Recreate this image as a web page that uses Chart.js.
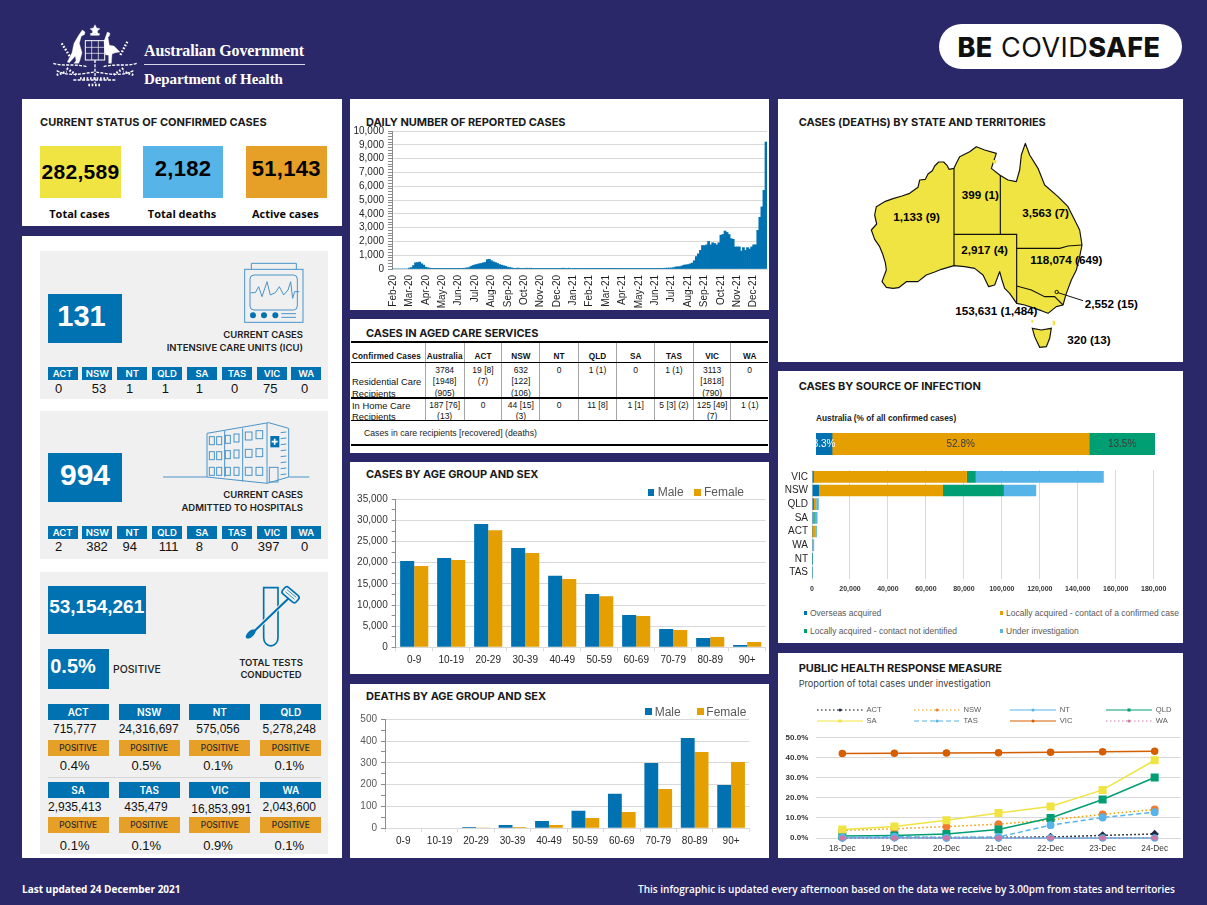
<!DOCTYPE html>
<html>
<head>
<meta charset="utf-8">
<title>Coronavirus (COVID-19) at a glance</title>
<script src="https://cdn.jsdelivr.net/npm/chart.js@4"></script>
<style>
  html, body { margin: 0; padding: 0; background: #2b2869; }
  #page { position: relative; width: 1207px; height: 905px; overflow: hidden; background: #2b2869; font-family: "Liberation Sans", Arial, sans-serif; }
  #page > * { position: absolute; }
  .txt { white-space: nowrap; line-height: 1; }
  .title { font-family: Inter, sans-serif; font-weight: 700; font-size: 11px; color: #1a1a1a; letter-spacing: -0.05px; }
  #aged { border-collapse: collapse; table-layout: fixed; font-size: 8.5px; color: #111; }
  #aged td { text-align: center; vertical-align: top; padding: 0; line-height: 11.8px; overflow: hidden; border-left: 1.5px solid #a6a6a6; }
  #aged td > div { position: relative; top: 2.5px; }
  #aged td:first-child { text-align: left; border-left: none; padding-left: 1px; font-size: 9.4px; white-space: nowrap; }
  #aged tr.resid td:first-child { vertical-align: bottom; }
  #aged tr.head td { font-weight: 700; vertical-align: bottom; padding-bottom: 1px; line-height: 9px; letter-spacing: .1px; font-size: 8.2px; }
  #aged tr.head td > div { top: 0; }
</style>
</head>
<body>
<div id="page"></div>
<script>
/* ── Data ────────────────────────────────────────────────── */

const states = ['ACT', 'NSW', 'NT', 'QLD', 'SA', 'TAS', 'VIC', 'WA'];

const statusLabels = ['Total cases', 'Total deaths', 'Active cases'];
const statusValues = ['282,589', '2,182', '51,143'];

const icuByState = [0, 53, 1, 1, 1, 0, 75, 0];
const hospitalByState = [2, 382, 94, 111, 8, 0, 397, 0];
const testsByState = ['715,777', '24,316,697', '575,056', '5,278,248', '2,935,413', '435,479', '16,853,991', '2,043,600'];
const positiveByState = ['0.4%', '0.5%', '0.1%', '0.1%', '0.1%', '0.1%', '0.9%', '0.1%'];

const dailyMonths = ['Feb-20', 'Mar-20', 'Apr-20', 'May-20', 'Jun-20', 'Jul-20', 'Aug-20', 'Sep-20', 'Oct-20', 'Nov-20', 'Dec-20', 'Jan-21',
  'Feb-21', 'Mar-21', 'Apr-21', 'May-21', 'Jun-21', 'Jul-21', 'Aug-21', 'Sep-21', 'Oct-21', 'Nov-21', 'Dec-21'];
// eight readings per month
const dailyCases = [
  0, 0, 0, 0, 0, 0, 0, 0,
  70, 100, 250, 450, 470, 500, 380, 280,
  130, 90, 60, 20, 10, 10, 5, 5,
  5, 5, 10, 10, 10, 10, 5, 5,
  5, 5, 10, 60, 80, 100, 180, 250,
  300, 330, 380, 400, 450, 480, 680, 700,
  600, 520, 470, 400, 320, 280, 230, 200,
  130, 110, 80, 50, 50, 70, 20, 10,
  10, 60, 10, 60, 5, 5, 5, 5,
  5, 5, 5, 5, 5, 5, 5, 5,
  5, 5, 5, 60, 5, 5, 60, 40,
  10, 5, 5, 5, 5, 5, 5, 5,
  5, 5, 5, 5, 5, 5, 5, 5,
  5, 5, 5, 5, 5, 5, 5, 5,
  5, 5, 5, 5, 50, 50, 5, 5,
  5, 5, 5, 5, 5, 5, 5, 5,
  5, 5, 5, 10, 15, 60, 70, 70,
  80, 100, 150, 160, 170, 220, 280, 300,
  320, 370, 430, 600, 900, 1100, 1350, 1700,
  1700, 1750, 2000, 1750, 1900, 1850, 1750, 1900,
  2450, 2500, 2750, 2650, 2500, 2200, 2150, 1600,
  1600, 1600, 1300, 1550, 1350, 1550, 1450, 1600,
  1750, 1750, 2800, 3750, 4500, 5700, 9200,
];

const agedHeader = ['Confirmed Cases', 'Australia', 'ACT', 'NSW', 'NT', 'QLD', 'SA', 'TAS', 'VIC', 'WA'];
const agedResidential = ['Residential Care<br>Recipients', '3784<br>[1948]<br>(905)', '19 [8]<br>(7)', '632<br>[122]<br>(106)', '0', '1 (1)', '0', '1 (1)', '3113<br>[1818]<br>(790)', '0'];
const agedHome = ['In Home Care<br>Recipients', '187 [76]<br>(13)', '0', '44 [15]<br>(3)', '0', '11 [8]', '1 [1]', '5 [3] (2)', '125 [49]<br>(7)', '1 (1)'];

const ageGroups = ['0-9', '10-19', '20-29', '30-39', '40-49', '50-59', '60-69', '70-79', '80-89', '90+'];
const casesMale = [20400, 21100, 29150, 23500, 16900, 12600, 7650, 4350, 2200, 550];
const casesFemale = [19200, 20650, 27700, 22300, 16150, 12100, 7400, 4100, 2450, 1260];
const deathsMale = [0, 0, 6, 15, 34, 80, 158, 300, 414, 199];
const deathsFemale = [0, 0, 1, 6, 15, 47, 75, 180, 350, 304];

const mapLabels = ['1,133 (9)', '399 (1)', '3,563 (7)', '2,917 (4)', '118,074 (649)', '2,552 (15)', '153,631 (1,484)', '320 (13)'];

const sourceNames = ['Overseas acquired', 'Locally acquired - contact of a confirmed case', 'Locally acquired - contact not identified', 'Under investigation'];
const australiaShare = [3.3, 52.8, 13.5];
const sourceStates = ['VIC', 'NSW', 'QLD', 'SA', 'ACT', 'WA', 'NT', 'TAS'];
const sourceOverseas = [1000, 3700, 1000, 800, 100, 500, 60, 60];
const sourceContact = [80600, 65300, 1200, 300, 1900, 100, 30, 30];
const sourceUnknown = [4700, 32100, 60, 400, 300, 0, 300, 0];
const sourceInvestigation = [67400, 17000, 1300, 1400, 250, 530, 10, 230];

const phrmDays = ['18-Dec', '19-Dec', '20-Dec', '21-Dec', '22-Dec', '23-Dec', '24-Dec'];
const phrmACT = [0.1, 0.2, 0.2, 0.3, 0.5, 1.3, 2.0];
const phrmNSW = [3.8, 4.6, 5.7, 6.9, 9.0, 11.8, 14.2];
const phrmNT = [0, 0.1, 0, 0, 0, 0, 0];
const phrmQLD = [1.0, 1.3, 2.0, 4.3, 10.0, 19.2, 30.2];
const phrmSA = [4.2, 5.7, 8.9, 12.5, 15.7, 24.0, 38.8];
const phrmTAS = [0.3, 0.7, 0.2, 0.5, 6.4, 10.2, 12.9];
const phrmVIC = [42.2, 42.3, 42.4, 42.5, 42.8, 43.0, 43.3];
const phrmWA = [0, 0, 0, 0, 0, 0, 0];

/* ── Helpers ─────────────────────────────────────────────── */

const BLUE = '#0072b2', ORANGE = '#e69f00', GREEN = '#009e73', SKY = '#56b4e9', YELLOW = '#f0e442', RED = '#d55e00', PINK = '#cc79a7';
const GRID = '#d9d9d9', AXIS = '#8c8c8c';
const page = document.getElementById('page');

function box(x1, y1, x2, y2, color) {
  const d = document.createElement('div');
  d.style.cssText = `left:${x1}px;top:${y1}px;width:${x2 - x1}px;height:${y2 - y1}px;background:${color}`;
  page.appendChild(d);
  return d;
}

// x is the left edge, the centre or the right edge depending on align; y is the vertical centre
function text(str, x, y, css = '', align = 'l', cls = 'txt') {
  const d = document.createElement('div');
  d.className = cls === 'txt' ? 'txt' : 'txt ' + cls;
  d.textContent = str;
  const shift = align === 'c' ? '-50%' : align === 'r' ? '-100%' : '0';
  d.style.cssText = `left:${x}px;top:${y}px;transform:translate(${shift},-50%);${css}`;
  page.appendChild(d);
  return d;
}

function title(str, x, y) { return text(str, x, y, '', 'l', 'title'); }

function svg(x, y, w, h, vw, vh, body) {
  const holder = document.createElement('div');
  holder.style.cssText = `left:${x}px;top:${y}px;width:${w}px;height:${h}px`;
  holder.innerHTML = `<svg xmlns="http://www.w3.org/2000/svg" width="${w}" height="${h}" viewBox="0 0 ${vw} ${vh}" style="display:block">${body}</svg>`;
  page.appendChild(holder);
}

// canvas pinned to the page so the plot area lands at fixed pixels
function chartAt(area, plot, config) {
  const c = document.createElement('canvas');
  c.width = area.w; c.height = area.h;
  c.style.cssText = `left:${area.x}px;top:${area.y}px;width:${area.w}px;height:${area.h}px`;
  page.appendChild(c);
  const o = config.options = config.options || {};
  o.responsive = false;
  o.animation = false;
  o.layout = { autoPadding: false, padding: { top: plot.t - area.y, right: area.x + area.w - plot.r, left: 0, bottom: 0 } };
  if (o.scales) {
    if (o.scales.x) o.scales.x.afterFit = s => { s.height = area.y + area.h - plot.b; s.paddingLeft = 0; s.paddingRight = 0; };
    if (o.scales.y) o.scales.y.afterFit = s => { s.width = plot.l - area.x; };
  }
  o.plugins = Object.assign({ legend: { display: false }, tooltip: { enabled: false } }, o.plugins);
  return new Chart(c.getContext('2d'), config);
}

// value axis with minor tick marks but labels and grid lines only on the major steps
function minorAxis(max, major, minor, fontSize, color) {
  return {
    min: 0, max,
    border: { color: AXIS },
    grid: { color: ctx => (ctx.tick.value % major === 0 ? GRID : 'rgba(0,0,0,0)'), tickColor: AXIS, tickLength: 4 },
    ticks: {
      stepSize: minor, autoSkip: false, padding: 4, color, font: { size: fontSize, family: 'Liberation Sans' },
      callback: v => (v % major === 0 ? v.toLocaleString('en-US') : ''),
    },
  };
}

function ageChart(area, plot, male, female, yAxis) {
  chartAt(area, plot, {
    type: 'bar',
    data: {
      labels: ageGroups,
      datasets: [
        { label: 'Male', data: male, backgroundColor: BLUE, barPercentage: 1, categoryPercentage: 0.76 },
        { label: 'Female', data: female, backgroundColor: ORANGE, barPercentage: 1, categoryPercentage: 0.76 },
      ],
    },
    options: {
      scales: {
        x: {
          border: { color: GRID },
          grid: { drawOnChartArea: false, tickColor: GRID, tickLength: 4 },
          ticks: { padding: 3, color: '#262626', maxRotation: 0, font: { size: 10, family: 'Liberation Sans' } },
        },
        y: yAxis,
      },
    },
  });
}

function swatchLegend(items) {
  items.forEach(([name, color, sx, tx, y]) => {
    box(sx, y - 3.3, sx + 6.6, y + 3.3, color);
    text(name, tx, y, 'font-size:12px;color:#595959');
  });
}

/* ── Frame ───────────────────────────────────────────────── */

[[22, 99, 342, 226], [22, 236, 342, 858], [350, 99, 769, 310], [350, 319, 769, 453], [350, 462, 769, 674],
  [350, 684, 769, 858], [778, 99, 1183, 362], [778, 371, 1183, 643], [778, 653, 1183, 858]]
  .forEach(p => box(p[0], p[1], p[2], p[3], '#fff'));

// coat of arms, a rough likeness
svg(0, 0, 345, 92, 1035, 276, `
  <g fill="#fff" stroke="#fff">
    <path d="M285 74l5 10 10 2-8 7 2 11-9-5-9 5 2-11-8-7 10-2z"/>
    <rect x="272" y="100" width="26" height="6"/>
    <path d="M247 90l8 6-2 8 -9 4 -6 22 8 28 -6 22 -4 10 -14 0 6-8 -2-14 -18 20 -6-2 14-28 6-28 14-24z"/>
    <path d="M322 96l8 4 -2 8 -4 4 4 24 14 2 18 18 -14 2 -10 4 -2 28 -8 0 0-24 -10-2 -4-40z"/>
  </g>
  <rect x="256" y="122" width="58" height="58" fill="none" stroke="#fff" stroke-width="3"/>
  <path d="M256 142h58M256 160h58M275 122v58M295 122v58" stroke="#fff" stroke-width="2"/>
  <path d="M285 180v70M160 190c30 10 60 0 100 10M410 190c-30 10-60 0-100 10M170 212c40 20 80 8 115 4M400 212c-40 20-80 8-115 4M220 240l130 0"
    fill="none" stroke="#fff" stroke-width="4" stroke-dasharray="9 4"/>
  <path d="M185 130l25 40M382 125l-22 42M170 225l30-10M400 225l-30-10M240 235h90M200 205l30 20M370 205l-30 20M265 255l40 0" stroke="#fff" stroke-width="7" stroke-dasharray="5 5" fill="none"/>
`);
const govFont = 'font-family:"Liberation Serif",serif;font-weight:700;color:#fff;';
text('Australian Government', 144, 50.5, govFont + 'font-size:16px;letter-spacing:-.15px');
box(144, 64, 305, 65, '#d8d7e8');
text('Department of Health', 144, 78.5, govFont + 'font-size:15px;letter-spacing:-.1px');

const pill = box(939, 24, 1182, 69, '#fff');
pill.style.borderRadius = '22.5px';
const safe = text('', 1059, 47, 'font-family:Inter,sans-serif;font-size:27px;color:#111;letter-spacing:.5px', 'c');
safe.innerHTML = '<b style="font-weight:800">BE</b> COVID<b style="font-weight:800">SAFE</b>';

text('Last updated 24 December 2021', 22, 889, 'font-family:"Open Sans",sans-serif;font-weight:700;font-size:10px;color:#fff');
text('This infographic is updated every afternoon based on the data we receive by 3.00pm from states and territories', 1175, 889,
  'font-family:"Open Sans",sans-serif;font-weight:600;font-size:10px;color:#fff', 'r');

/* ── Current status ──────────────────────────────────────── */

title('CURRENT STATUS OF CONFIRMED CASES', 40, 122).style.letterSpacing = '.04px';
[[40, 121, YELLOW], [142.7, 223.3, SKY], [246, 326.7, '#e69f27']].forEach(([x1, x2, color], i) => {
  box(x1, 145.7, x2, 197.7, color);
  const size = i === 0 ? 21 : 22;
  text(statusValues[i], (x1 + x2) / 2, i === 0 ? 171 : 169, `font-weight:700;font-size:${size}px;color:#000;letter-spacing:.3px`, 'c');
  text(statusLabels[i], (x1 + x2) / 2 - 1, 212.5, 'font-family:"Open Sans",sans-serif;font-weight:700;font-size:11px;color:#0a0a0a', 'c');
});

/* ── ICU, hospital and tests ─────────────────────────────── */

box(40, 251, 328, 399, '#f0f0f0');
box(40, 411, 328, 559, '#f0f0f0');
box(40, 572, 328, 854, '#f0f0f0');

const strip = [47.7, 82.3, 117.3, 152, 187, 222, 257, 291.3];
const stripHeader = 'font-family:Inter,sans-serif;font-weight:600;font-size:9.5px;color:#fff';
const kpi = 'font-weight:700;color:#fff;';

box(47.7, 294, 122, 343, BLUE);
text('131', 81.5, 316, kpi + 'font-size:29px', 'c');
text('CURRENT CASES', 303, 335.3, 'font-family:Inter,sans-serif;font-weight:600;font-size:9.5px;color:#222', 'r');
text('INTENSIVE CARE UNITS (ICU)', 303, 348.3, 'font-family:Inter,sans-serif;font-weight:600;font-size:9.5px;color:#222', 'r');
const icuX = [58.7, 99, 129.7, 165.3, 199.3, 234.7, 270.3, 304.7];
states.forEach((s, i) => {
  box(strip[i], 367, strip[i] + 30, 380, BLUE);
  text(s, strip[i] + 15, 373.7, stripHeader, 'c');
  text(String(icuByState[i]), icuX[i], 388.3, 'font-size:13px;color:#111', 'c');
});

box(47.7, 453, 122, 502, BLUE);
text('994', 85, 475, kpi + 'font-size:30px', 'c');
text('CURRENT CASES', 303, 495, 'font-family:Inter,sans-serif;font-weight:600;font-size:9.5px;color:#222', 'r');
text('ADMITTED TO HOSPITALS', 303, 508, 'font-family:Inter,sans-serif;font-weight:600;font-size:9.5px;color:#222', 'r');
const hospX = [58.7, 97, 129.7, 168.7, 199.3, 234.7, 268.7, 304.7];
states.forEach((s, i) => {
  box(strip[i], 526, strip[i] + 30, 539, BLUE);
  text(s, strip[i] + 15, 532.7, stripHeader, 'c');
  text(String(hospitalByState[i]), hospX[i], 546.3, 'font-size:13px;color:#111', 'c');
});

// monitor and hospital line art
const iconLine = 'fill="none" stroke="#4a94c9" stroke-width="3"';
let windows = '';
[[562, 590], [584, 590], [610, 586], [636, 582], [670, 576], [702, 572], [562, 635], [584, 635], [610, 632], [636, 630], [670, 628], [702, 626],
  [562, 682], [584, 682], [610, 682], [636, 682], [670, 682], [702, 682]].forEach(([x, y]) => {
  windows += `<rect x="${x}" y="${y}" width="${x < 660 ? 15 : 20}" height="24" ${iconLine}/>`;
});
let ladder = '';
[578, 596, 614, 632, 650, 668, 686, 704].forEach(y => { ladder += `<path d="M776 ${y}l17 -2" ${iconLine}/>`; });
svg(22, 240, 320, 320, 960, 960, `
  <rect x="668" y="88" width="175" height="159" ${iconLine}/>
  <path d="M688 88v-18h135v18" ${iconLine}/>
  <rect x="684" y="105" width="142" height="105" rx="12" ${iconLine}/>
  <path d="M686 158h14l10-18 10 30 15-45 10 40 15-7 12-18 13 25 13-15 8-25 6 50 6-20h14" ${iconLine}/>
  <g fill="${BLUE}"><circle cx="693" cy="226" r="9"/><circle cx="726" cy="226" r="9"/><circle cx="760" cy="226" r="9"/></g>
  <path d="M778 221h44M778 232h44" ${iconLine}/>
  <path d="M423 711h132M800 711h62M555 711v-131l185-32 60 17v146l-65 19v-182M608 711v-139M662 725v-160M555 711l180 19" ${iconLine}/>
  ${windows}${ladder}
  <rect x="745" y="588" width="27" height="34" fill="${BLUE}"/>
  <path d="M758 596v18M749 605h18" stroke="#fff" stroke-width="5"/>
  <rect x="742" y="682" width="26" height="44" ${iconLine}/>
`);

box(47.7, 585.7, 146, 634, BLUE);
text('53,154,261', 96.7, 605.7, kpi + 'font-size:19px', 'c');
box(47.7, 648.7, 109, 689, BLUE);
text('0.5%', 73, 666, kpi + 'font-size:20px', 'c');
text('POSITIVE', 113, 670, 'font-family:Inter,sans-serif;font-weight:500;font-size:10.5px;color:#222');
text('TOTAL TESTS', 271, 662.7, 'font-family:Inter,sans-serif;font-weight:600;font-size:9.5px;color:#222', 'c');
text('CONDUCTED', 271, 675.3, 'font-family:Inter,sans-serif;font-weight:600;font-size:9.5px;color:#222', 'c');

svg(22, 565, 320, 295, 960, 885, `
  <path d="M725 68h43v150a21 24 0 0 1 -43 0z" fill="none" stroke="${BLUE}" stroke-width="5"/>
  <path d="M695 200L800 100" stroke="#f0f0f0" stroke-width="12"/>
  <path d="M695 200L800 100" stroke="${BLUE}" stroke-width="6"/>
  <ellipse cx="686" cy="207" rx="18" ry="9" transform="rotate(-42 686 207)" fill="${BLUE}"/>
  <g transform="rotate(40 805 90)"><rect x="778" y="76" width="54" height="26" rx="9" fill="none" stroke="${BLUE}" stroke-width="5"/>
  <path d="M787 84h36M787 92h36" stroke="${BLUE}" stroke-width="2"/></g>
`);

const testCols = [47.7, 118.7, 189.3, 260.3];
const testValueX = [[74.7, 148.7, 218, 289.3], [74.7, 146, 221.3, 289.3]];
const pctX = [[74.7, 146.3, 218, 289.3], [74.7, 146.3, 218, 289.3]];
const rowTop = [703.7, 782];
states.forEach((s, i) => {
  const row = i < 4 ? 0 : 1, col = i % 4, top = rowTop[row], x = testCols[col];
  box(x, top, x + 61, top + 16.3, BLUE);
  text(s, x + 30.5, top + 8.2, stripHeader.replace('9.5px', '10px'), 'c');
  let valueY = row === 0 ? 728.7 : 806.7;
  if (s === 'VIC') valueY = 809;
  text(testsByState[i], testValueX[row][col], valueY, 'font-size:12px;color:#111', 'c');
  const orangeTop = row === 0 ? 740 : 816.7;
  box(x, orangeTop, x + 61, orangeTop + 16, '#e69f27');
  text('POSITIVE', x + 30.5, orangeTop + 8.2, 'font-family:Inter,sans-serif;font-weight:500;font-size:8.3px;color:#2a2a2a', 'c');
  text(positiveByState[i], pctX[row][col], row === 0 ? 765 : 845, 'font-size:13px;color:#111', 'c');
});
box(47.7, 777.2, 321.3, 778.4, '#d6d6d6');

/* ── Daily cases ─────────────────────────────────────────── */

title('DAILY NUMBER OF REPORTED CASES', 366, 122);
chartAt({ x: 350, y: 120, w: 419, h: 190 }, { l: 392, t: 131, r: 767, b: 269 }, {
  type: 'bar',
  data: {
    labels: dailyCases.map((_, i) => (i % 8 === 0 ? dailyMonths[i / 8] : '')),
    datasets: [{ data: dailyCases, backgroundColor: BLUE, barPercentage: 1, categoryPercentage: 1 }],
  },
  options: {
    scales: {
      x: {
        border: { color: GRID },
        grid: { display: false, drawTicks: false },
        ticks: { autoSkip: false, minRotation: 90, maxRotation: 90, padding: 6, color: '#1f1f1f', font: { size: 10, family: 'Liberation Sans' } },
      },
      y: minorAxis(10000, 1000, 200, 10, '#1f1f1f'),
    },
  },
});

/* ── Aged care table ─────────────────────────────────────── */

title('CASES IN AGED CARE SERVICES', 366, 333);
const colWidths = [74, 39.3, 37.4, 38.3, 38.3, 38.4, 38, 38.6, 37.7, 37];
const table = document.createElement('table');
table.id = 'aged';
table.style.cssText = 'left:351px;top:341px;width:417px';
const row = (cells, cls, h) => `<tr class="${cls}" style="height:${h}px">` + cells.map(c => `<td><div style="max-height:${h}px;overflow:hidden">${c}</div></td>`).join('') + '</tr>';
table.innerHTML = `<colgroup>${colWidths.map(w => `<col style="width:${w}px">`).join('')}</colgroup>` +
  row(agedHeader, 'head', 21) + row(agedResidential, 'resid', 35) + row(agedHome, '', 23);
page.appendChild(table);
box(351, 340.5, 768, 342.5, '#000');
box(351, 362, 768, 363, '#000');
box(351, 397, 768, 399, '#000');
box(351, 420, 768, 421, '#000');
box(351, 444, 768, 446, '#000');
text('Cases in care recipients [recovered] (deaths)', 364, 433, 'font-size:8.7px;color:#222');

/* ── Age and sex charts ──────────────────────────────────── */

title('CASES BY AGE GROUP AND SEX', 366, 474);
ageChart({ x: 350, y: 480, w: 419, h: 192 }, { l: 395.7, t: 499.3, r: 765.7, b: 647.3 }, casesMale, casesFemale, minorAxis(35000, 5000, 2500, 10, '#333'));
swatchLegend([['Male', BLUE, 647.7, 657.7, 492.3], ['Female', ORANGE, 694.3, 704, 492.3]]);

title('DEATHS BY AGE GROUP AND SEX', 366, 696.3);
ageChart({ x: 350, y: 705, w: 419, h: 151 }, { l: 385, t: 719.3, r: 749.3, b: 828.3 }, deathsMale, deathsFemale, minorAxis(500, 100, 50, 10, '#595959'));
swatchLegend([['Male', BLUE, 645, 654.7, 711.7], ['Female', ORANGE, 697, 706.3, 711.7]]);

/* ── Map ─────────────────────────────────────────────────── */

title('CASES (DEATHS) BY STATE AND TERRITORIES', 798.7, 122);
const mainland = 'M528 205L513 208 507 196 497 186 482 186 470 198 463 212 450 222 442 238 425 240 420 262 395 280 372 288 345 296 322 304 295 320 290 345 296 372 280 390 290 418 305 440 314 462 322 488 325 510 312 545 325 562 345 565 362 563 385 545 420 545 445 525 470 516 490 508 528 497 560 500 590 505 615 525 632 560 650 555 665 515 672 540 680 565 695 580 716 610 740 615 770 625 790 632 810 640 835 620 855 615 865 580 880 540 895 510 905 470 912 435 905 390 890 360 870 320 840 290 800 255 780 205 755 165 742 130 730 165 725 210 715 245 690 240 665 225 640 205 655 160 620 150 595 140 575 155 545 170 535 190Z';
const mapText = [[416, 350], [607, 285], [803, 340], [620, 450], [865, 480], [1000, 612], [655, 632], [933, 720]];
svg(778, 100, 420, 262, 1260, 786, `
  <path d="${mainland}" fill="${YELLOW}" stroke="#111" stroke-width="3.5" stroke-linejoin="round"/>
  <path d="M763 685l27 5 30-5-5 30-10 25-20 2-15-32z" fill="${YELLOW}" stroke="#111" stroke-width="3.5"/>
  <path d="M645 180h10v10h-10zM760 660h6v8h-6zM824 662h7v14h-7z" fill="${YELLOW}"/>
  <path d="M528 205V497M667 225V403M528 403H716V612M716 445H845L870 438 912 435M716 558L760 570 800 590 830 590 855 615" fill="none" stroke="#111" stroke-width="3.5"/>
  <circle cx="836" cy="576" r="5" fill="none" stroke="#111" stroke-width="3"/>
  <path d="M840 578L915 602" stroke="#111" stroke-width="3"/>
  <g font-family="Liberation Sans" font-weight="700" font-size="35" text-anchor="middle" fill="#000">
    ${mapLabels.map((t, i) => `<text x="${mapText[i][0]}" y="${mapText[i][1] + 12}">${t}</text>`).join('')}
  </g>
`);

/* ── Source of infection ─────────────────────────────────── */

title('CASES BY SOURCE OF INFECTION', 798.7, 386);
text('Australia (% of all confirmed cases)', 816, 418.3, 'font-weight:700;font-size:8.3px;color:#222');

const shareLabels = {
  id: 'shareLabels',
  afterDatasetsDraw(chart) {
    const ctx = chart.ctx;
    chart.data.datasets.forEach((ds, i) => {
      const p = chart.getDatasetMeta(i).data[0].getCenterPoint();
      ctx.save();
      ctx.font = '10px "Liberation Sans"';
      ctx.textAlign = 'center';
      ctx.textBaseline = 'middle';
      ctx.fillStyle = i === 0 ? '#fff' : '#3a3a3a';
      ctx.fillText(ds.data[0].toFixed(1) + '%', p.x, p.y);
      ctx.restore();
    });
  },
};
const shareColors = [BLUE, ORANGE, GREEN];
chartAt({ x: 816, y: 433, w: 339, h: 22 }, { l: 816, t: 433, r: 1155, b: 455 }, {
  type: 'bar',
  plugins: [shareLabels],
  data: {
    labels: ['Australia'],
    datasets: australiaShare.map((v, i) => ({ label: sourceNames[i], data: [v], backgroundColor: shareColors[i], barPercentage: 1, categoryPercentage: 1 })),
  },
  options: {
    indexAxis: 'y',
    scales: {
      x: { display: false, stacked: true, min: 0, max: 69.6 },
      y: { display: false, stacked: true },
    },
  },
});

const sourceSeries = [sourceOverseas, sourceContact, sourceUnknown, sourceInvestigation];
const sourceColors = [BLUE, ORANGE, GREEN, SKY];
chartAt({ x: 778, y: 460, w: 405, h: 140 }, { l: 812, t: 467.3, r: 1153.7, b: 579.3 }, {
  type: 'bar',
  data: {
    labels: sourceStates,
    datasets: sourceSeries.map((d, i) => ({ label: sourceNames[i], data: d, backgroundColor: sourceColors[i], barPercentage: 1, categoryPercentage: 0.85 })),
  },
  options: {
    indexAxis: 'y',
    scales: {
      x: {
        stacked: true, min: 0, max: 180000,
        border: { display: false },
        grid: { color: GRID, drawTicks: false },
        ticks: { stepSize: 20000, padding: 6, maxRotation: 0, color: '#333', font: { size: 7, weight: 'bold', family: 'Liberation Sans' }, callback: v => v.toLocaleString('en-US') },
      },
      y: {
        stacked: true,
        border: { color: GRID },
        grid: { display: false, drawTicks: false },
        ticks: { autoSkip: false, padding: 4, color: '#262626', font: { size: 10, family: 'Liberation Sans' } },
      },
    },
  },
});

[[803.7, 810, 613], [999.7, 1006, 613], [803.7, 810, 631], [999.7, 1006, 631]].forEach(([sx, tx, y], i) => {
  box(sx, y - 1.8, sx + 3.6, y + 1.8, sourceColors[i]);
  text(sourceNames[i], tx, y, 'font-size:8.5px;color:#595959');
});

/* ── Public health response ──────────────────────────────── */

title('PUBLIC HEALTH RESPONSE MEASURE', 798.7, 668.3);
text('Proportion of total cases under investigation', 798.7, 684.3, 'font-family:Inter,sans-serif;font-size:9.2px;color:#404040');

const phrmSeries = [
  { label: 'ACT', data: phrmACT, borderColor: '#000', pointBackgroundColor: '#1f2a44', dash: [1.5, 2.5], point: 'rectRot', radius: 3.2 },
  { label: 'NSW', data: phrmNSW, borderColor: ORANGE, pointBackgroundColor: '#ed7d31', dash: [1.5, 2.5], point: 'circle', radius: 3.2 },
  { label: 'NT', data: phrmNT, borderColor: SKY, pointBackgroundColor: SKY, dash: [], point: 'circle', radius: 3 },
  { label: 'QLD', data: phrmQLD, borderColor: GREEN, pointBackgroundColor: GREEN, dash: [], point: 'rect', radius: 4.6 },
  { label: 'SA', data: phrmSA, borderColor: YELLOW, pointBackgroundColor: YELLOW, dash: [], point: 'rect', radius: 4.6 },
  { label: 'TAS', data: phrmTAS, borderColor: SKY, pointBackgroundColor: SKY, dash: [5, 3], point: 'circle', radius: 3.2 },
  { label: 'VIC', data: phrmVIC, borderColor: RED, pointBackgroundColor: RED, dash: [], point: 'circle', radius: 3 },
  { label: 'WA', data: phrmWA, borderColor: PINK, pointBackgroundColor: PINK, dash: [1.5, 2.5], point: 'circle', radius: 2 },
];

chartAt({ x: 778, y: 725, w: 405, h: 132 }, { l: 816.3, t: 733.7, r: 1180.7, b: 838 }, {
  type: 'line',
  data: {
    labels: phrmDays,
    datasets: phrmSeries.map((s, i) => ({
      label: s.label, data: s.data, borderColor: s.borderColor, borderWidth: 1.5, borderDash: s.dash, tension: 0, order: phrmSeries.length - i,
      pointStyle: s.point, pointRadius: s.radius, pointBackgroundColor: s.pointBackgroundColor, pointBorderColor: s.pointBackgroundColor, clip: false,
    })),
  },
  options: {
    scales: {
      x: {
        offset: true,
        border: { color: GRID },
        grid: { display: false, drawTicks: false },
        ticks: { padding: 6, color: '#333', maxRotation: 0, font: { size: 8.3, family: 'Liberation Sans' } },
      },
      y: {
        min: 0, max: 50,
        border: { display: false },
        grid: { color: GRID, drawTicks: false },
        ticks: { stepSize: 10, padding: 8, color: '#333', font: { size: 8, weight: 'bold', family: 'Liberation Sans' }, callback: v => v.toFixed(1) + '%' },
      },
    },
  },
});

const legendCols = [817, 914, 1010.3, 1106.3];
phrmSeries.forEach((s, i) => {
  const x = legendCols[i % 4], y = i < 4 ? 710.3 : 721.3;
  const m = s.point === 'rect' ? `<rect x="21.5" y="3.5" width="3" height="3" fill="${s.pointBackgroundColor}"/>` : `<circle cx="23" cy="5" r="1.5" fill="${s.pointBackgroundColor}"/>`;
  svg(x, y - 5, 46, 10, 46, 10, `<path d="M0 5H46" stroke="${s.borderColor}" stroke-width="1" stroke-dasharray="${s.dash.join(' ')}"/>${m}`);
  text(s.label, x + 49.5, y, 'font-size:7.6px;color:#595959');
});
</script>
</body>
</html>
